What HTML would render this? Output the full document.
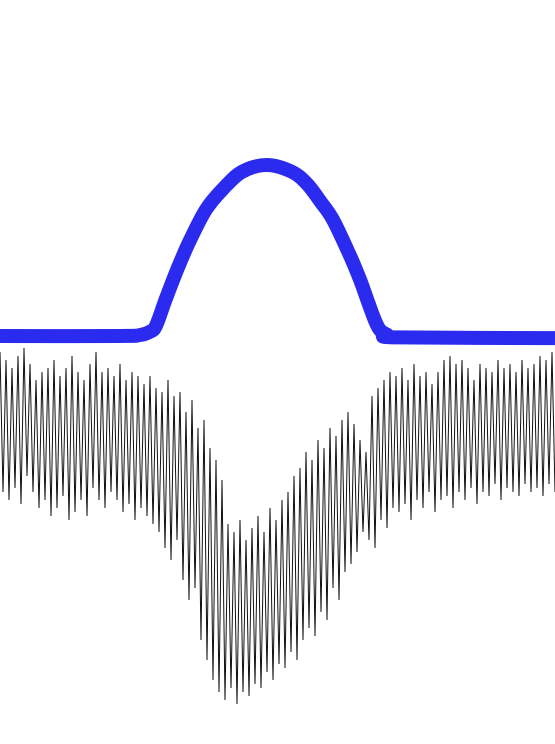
<!DOCTYPE html>
<html><head><meta charset="utf-8"><style>
html,body{margin:0;padding:0;background:#fff;width:555px;height:744px;overflow:hidden}
svg{display:block}
</style></head><body>
<svg id="chart" width="555" height="744" viewBox="0 0 555 744" xmlns="http://www.w3.org/2000/svg">
<g id="spec"></g>
<path id="model" fill="none" stroke="#2b2bef" stroke-width="14" stroke-linejoin="round" stroke-linecap="butt"/>
</svg>
<script>
const specHi=[0.97,0.95,0.93,0.96,0.98,0.94,0.90,0.92,0.93,
0.95,0.91,0.93,0.96,0.92,0.90,0.94,0.97,
0.92,0.93,0.91,0.94,0.90,0.92,0.91,0.89,
0.91,0.88,0.87,0.90,0.86,0.87,
0.82,0.85,0.78,0.80,0.73,0.70,
0.65,0.54,0.52,0.55,0.50,0.53,
0.56,0.52,0.58,0.55,0.60,0.62,
0.66,0.68,0.72,0.70,0.75,0.73,
0.78,0.76,0.80,0.82,0.79,0.75,
0.72,0.86,0.88,0.90,0.92,0.91,
0.93,0.90,0.94,0.91,0.92,0.89,
0.92,0.95,0.96,0.94,0.95,0.93,
0.90,0.94,0.93,0.92,0.95,0.93,
0.94,0.92,0.95,0.93,0.94,0.96,0.95,0.97];
const specLo=[0.62,0.60,0.63,0.59,0.66,0.62,0.58,0.60,0.56,
0.58,0.61,0.55,0.57,0.60,0.56,0.63,0.60,
0.58,0.62,0.60,0.57,0.59,0.55,0.58,0.56,
0.54,0.52,0.48,0.45,0.50,0.40,
0.35,0.38,0.25,0.20,0.15,0.12,
0.10,0.13,0.09,0.12,0.11,0.14,
0.13,0.17,0.15,0.19,0.18,0.22,
0.20,0.25,0.28,0.26,0.32,0.30,
0.38,0.35,0.42,0.44,0.47,0.52,
0.50,0.48,0.55,0.53,0.58,0.57,
0.59,0.55,0.60,0.58,0.62,0.57,
0.60,0.61,0.58,0.62,0.60,0.63,
0.59,0.62,0.61,0.64,0.60,0.63,
0.62,0.61,0.64,0.62,0.63,0.61,0.64,0.62];
const filterX=[0,120,140,150,156,166,178,190,206,223,242,267,292,307,320,333,350,360,368,375,380,387,398,555];
const filterV=[0,0,0.006,0.025,0.06,0.22,0.40,0.56,0.74,0.86,0.96,1.0,0.96,0.89,0.79,0.68,0.47,0.33,0.20,0.09,0.035,0.008,-0.008,-0.012];

const specX=i=>i*6;
const specY=v=>340+(1-v)*400;
const fX=x=>x;
const fY=v=>336-v*171;

const g=document.getElementById('spec');
let d='';
for(let i=0;i<specHi.length;i++){
  const x=specX(i);
  d+=(i===0?'M':'L')+x+','+specY(specHi[i]).toFixed(1)+' L'+(x+3)+','+specY(specLo[i]).toFixed(1)+' ';
}
const p=document.createElementNS('http://www.w3.org/2000/svg','path');
p.setAttribute('d',d);
p.setAttribute('fill','none');
p.setAttribute('stroke','#111');
p.setAttribute('stroke-width','1');


g.appendChild(p);

const pts=filterX.map((x,i)=>[fX(x),fY(filterV[i])]);
let md='M'+pts[0][0]+','+pts[0][1].toFixed(1);
for(let i=0;i<pts.length-1;i++){
  const p0=pts[Math.max(0,i-1)],p1=pts[i],p2=pts[i+1],p3=pts[Math.min(pts.length-1,i+2)];
  const c1x=p1[0]+(p2[0]-p0[0])/6,c1y=p1[1]+(p2[1]-p0[1])/6;
  const c2x=p2[0]-(p3[0]-p1[0])/6,c2y=p2[1]-(p3[1]-p1[1])/6;
  md+=' C'+c1x.toFixed(1)+','+c1y.toFixed(1)+' '+c2x.toFixed(1)+','+c2y.toFixed(1)+' '+p2[0]+','+p2[1].toFixed(1);
}
document.getElementById('model').setAttribute('d',md);
</script>
</body></html>
